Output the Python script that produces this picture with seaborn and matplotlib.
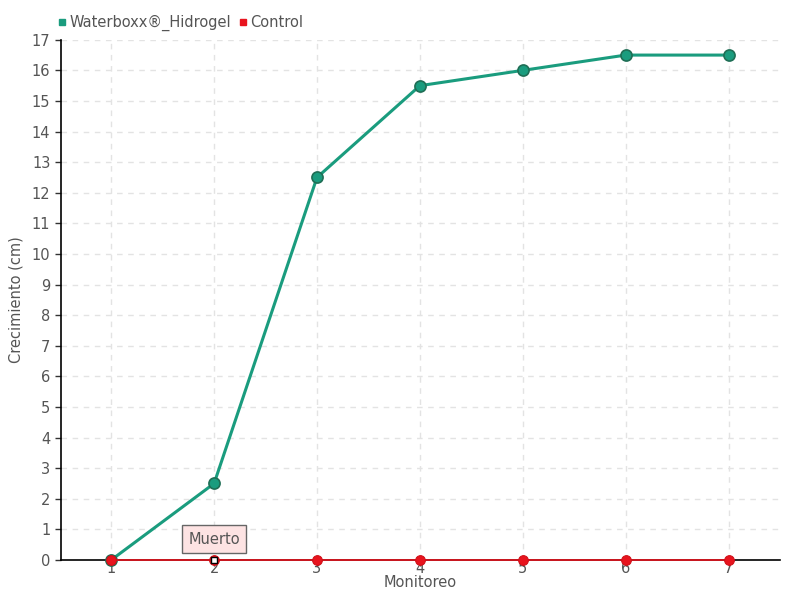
import numpy as np
import pandas as pd
import seaborn as sns
import matplotlib.pyplot as plt
from matplotlib.lines import Line2D

monitoreo = [1, 2, 3, 4, 5, 6, 7]
waterboxx = [0, 2.5, 12.5, 15.5, 16, 16.5, 16.5]
control = [0, 0, 0, 0, 0, 0, 0]
series_names = ['Waterboxx®_Hidrogel', 'Control']
colors = ['#1a9c7e', '#e8141e']

df = pd.DataFrame({
    'Monitoreo': monitoreo * 2,
    'Crecimiento': waterboxx + control,
    'Serie': [series_names[0]] * 7 + [series_names[1]] * 7,
})

sns.set_theme(style='white')
plt.rcParams['font.family'] = ['DejaVu Sans']

fig = plt.figure(figsize=(8, 6), dpi=100)
ax = fig.add_axes([0.076, 0.0667, 0.899, 0.867])

sns.lineplot(data=df[df.Serie == series_names[0]], x='Monitoreo', y='Crecimiento',
             color=colors[0], linewidth=2.2, marker='o', markersize=8,
             markeredgecolor='#1f6e55', markeredgewidth=1.2, ax=ax, legend=False,
             clip_on=False, zorder=4)
sns.lineplot(data=df[df.Serie == series_names[1]], x='Monitoreo', y='Crecimiento',
             color=colors[1], linewidth=1.2, marker='o', markersize=7,
             markeredgecolor='#d01018', ax=ax, legend=False, zorder=5, clip_on=False)

ax.set_xlim(0.51, 7.5)
ax.set_ylim(0, 17)
ax.set_xticks(monitoreo)
ax.set_yticks(range(0, 18))
ax.grid(True, color='#e3e3e3', linestyle=(0, (4, 4)), linewidth=1)
for s in ['top', 'right']:
    ax.spines[s].set_visible(False)
for s in ['left', 'bottom']:
    ax.spines[s].set_color('black')
    ax.spines[s].set_linewidth(1.2)
ax.tick_params(axis='both', colors='#333333', labelcolor='#555555', labelsize=10.5,
               length=4, width=1, direction='out', bottom=True, left=True)
ax.tick_params(axis='x', pad=-3)
ax.set_xlabel('Monitoreo', color='#555555', fontsize=10.5, labelpad=-1)
ax.set_ylabel('Crecimiento (cm)', color='#555555', fontsize=10.5, labelpad=6)

handles = [Line2D([], [], marker='s', linestyle='', color=c, markersize=5) for c in colors]
fig.legend(handles, series_names, loc='upper left', bbox_to_anchor=(0.052, 0.997),
           ncol=2, frameon=False, handletextpad=0.0, columnspacing=0.3,
           fontsize=10.5, labelcolor='#555555', handlelength=1.0)

ax.annotate('Muerto', xy=(2, 0), xytext=(2, 0.68), ha='center', va='center',
            fontsize=10.5, color='#555555',
            bbox=dict(boxstyle='square,pad=0.45', fc='#fde3e3', ec='#666666', lw=1),
            zorder=6)
ax.plot([2], [0], marker='s', markersize=5, color='black', mfc='white', zorder=7,
        clip_on=False)

fig.savefig('out.png', dpi=100)
